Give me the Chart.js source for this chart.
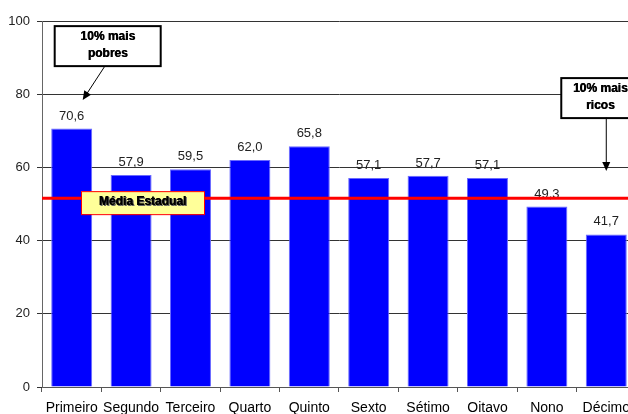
<!DOCTYPE html>
<html>
<head>
<meta charset="utf-8">
<script src="https://cdn.jsdelivr.net/npm/chart.js@4/dist/chart.umd.min.js"></script>
<style>
  html, body { margin: 0; padding: 0; background: #fff; overflow: hidden; }
  #wrap { position: relative; width: 638px; height: 414px; }
</style>
</head>
<body>
<div id="wrap"><canvas id="c"></canvas></div>
<script>
// Decis de renda e percentuais
const categorias = ['Primeiro', 'Segundo', 'Terceiro', 'Quarto', 'Quinto', 'Sexto', 'Sétimo', 'Oitavo', 'Nono', 'Décimo'];
const valores = [70.6, 57.9, 59.5, 62.0, 65.8, 57.1, 57.7, 57.1, 49.3, 41.7];
const mediaEstadual = 51.6;
const ticksY = [0, 20, 40, 60, 80, 100];

const FONT = '"Liberation Sans", Arial, sans-serif';
const fmt = v => v.toFixed(1).replace('.', ',');

function arrow(ctx, x1, y1, x2, y2) {
  const ang = Math.atan2(y2 - y1, x2 - x1);
  const hl = 9, hw = 4;
  ctx.save();
  ctx.strokeStyle = '#000';
  ctx.fillStyle = '#000';
  ctx.lineWidth = 1;
  ctx.beginPath();
  ctx.moveTo(x1, y1);
  ctx.lineTo(x2 - Math.cos(ang) * hl * 0.8, y2 - Math.sin(ang) * hl * 0.8);
  ctx.stroke();
  ctx.beginPath();
  ctx.moveTo(x2, y2);
  ctx.lineTo(x2 - hl * Math.cos(ang) + hw * Math.sin(ang), y2 - hl * Math.sin(ang) - hw * Math.cos(ang));
  ctx.lineTo(x2 - hl * Math.cos(ang) - hw * Math.sin(ang), y2 - hl * Math.sin(ang) + hw * Math.cos(ang));
  ctx.closePath();
  ctx.fill();
  ctx.restore();
}

// texto em negrito "pesado", com leve reforço horizontal
function heavyText(ctx, t, x, y) {
  ctx.fillText(t, x, y);
  ctx.fillText(t, x + 0.5, y);
}

function noteBox(ctx, x, y, w, h, lines) {
  ctx.save();
  ctx.fillStyle = '#fff';
  ctx.fillRect(x, y, w, h);
  ctx.strokeStyle = '#000';
  ctx.lineWidth = 2;
  ctx.strokeRect(x, y, w, h);
  ctx.fillStyle = '#000';
  ctx.font = 'bold 12px ' + FONT;
  ctx.textAlign = 'center';
  ctx.textBaseline = 'middle';
  lines.forEach((t, i) => heavyText(ctx, t, x + w / 2, y + 11 + i * 17));
  ctx.restore();
}

const extras = {
  id: 'extras',
  afterDatasetsDraw(chart) {
    const ctx = chart.ctx;
    const xs = chart.scales.x, ys = chart.scales.y;
    const area = chart.chartArea;

    // rótulos de valor sobre as barras
    ctx.save();
    ctx.font = '13px ' + FONT;
    ctx.fillStyle = '#222';
    ctx.textAlign = 'center';
    ctx.textBaseline = 'alphabetic';
    chart.getDatasetMeta(0).data.forEach((bar, i) => {
      ctx.fillText(fmt(valores[i]), bar.x, bar.y - 9);
    });
    ctx.restore();

    // linha da média estadual
    const ym = ys.getPixelForValue(mediaEstadual);
    ctx.save();
    ctx.strokeStyle = '#ff0000';
    ctx.lineWidth = 3;
    ctx.beginPath();
    ctx.moveTo(area.left, ym);
    ctx.lineTo(area.right, ym);
    ctx.stroke();

    // caixa "Média Estadual"
    const bx = area.left + 39, bw = 123, bh = 23;
    ctx.fillStyle = '#ffff99';
    ctx.fillRect(bx, ym - 7, bw, bh);
    ctx.strokeStyle = '#ff0000';
    ctx.lineWidth = 1;
    ctx.strokeRect(bx + 0.5, ym - 6.5, bw, bh);
    ctx.font = 'bold 12px ' + FONT;
    ctx.textAlign = 'center';
    ctx.textBaseline = 'middle';
    ctx.fillStyle = '#666';
    heavyText(ctx, 'Média Estadual', bx + bw / 2 + 1, ym + 5);
    ctx.fillStyle = '#000';
    heavyText(ctx, 'Média Estadual', bx + bw / 2, ym + 4);
    ctx.restore();

    // nota "10% mais pobres"
    const x0 = xs.getPixelForValue(0);
    noteBox(ctx, x0 - 17, ys.getPixelForValue(98.6), 106, 40, ['10% mais', 'pobres']);
    arrow(ctx, x0 + 33, ys.getPixelForValue(87.6), x0 + 11, ys.getPixelForValue(78.4));

    // nota "10% mais ricos"
    const x9 = xs.getPixelForValue(9);
    noteBox(ctx, x9 - 45, ys.getPixelForValue(84.4), 78, 40, ['10% mais', 'ricos']);
    arrow(ctx, x9, ys.getPixelForValue(73.6), x9, ys.getPixelForValue(59.0));
  }
};

new Chart(document.getElementById('c'), {
  type: 'bar',
  data: {
    labels: categorias,
    datasets: [{
      data: valores,
      backgroundColor: '#0000ff',
      borderColor: '#6a6aff',
      borderWidth: { top: 1, left: 1, right: 1, bottom: 0 },
      categoryPercentage: 1.0,
      barPercentage: 0.69
    }]
  },
  options: {
    responsive: true,
    maintainAspectRatio: false,
    animation: false,
    devicePixelRatio: 1,
    layout: { padding: { top: 21, right: 0, bottom: 0, left: 0 } },
    plugins: { legend: { display: false }, tooltip: { enabled: false } },
    scales: {
      x: {
        grid: { display: true, drawOnChartArea: false, drawTicks: true, tickLength: 5, color: '#555', offset: true },
        border: { display: true, color: '#555', width: 1 },
        ticks: { color: '#000', font: { family: FONT, size: 14 }, padding: 8, maxRotation: 0, autoSkip: false },
        afterFit(s) { s.height = 27; }
      },
      y: {
        min: 0, max: 100,
        afterBuildTicks(s) { s.ticks = ticksY.map(v => ({ value: v })); },
        grid: { color: '#333', lineWidth: 1, drawTicks: true, tickLength: 5 },
        border: { display: true, color: '#666', width: 1 },
        ticks: { color: '#222', font: { family: FONT, size: 13 }, padding: 7 },
        afterFit(s) { s.width = 42; }
      }
    }
  },
  plugins: [extras]
});
</script>
</body>
</html>
